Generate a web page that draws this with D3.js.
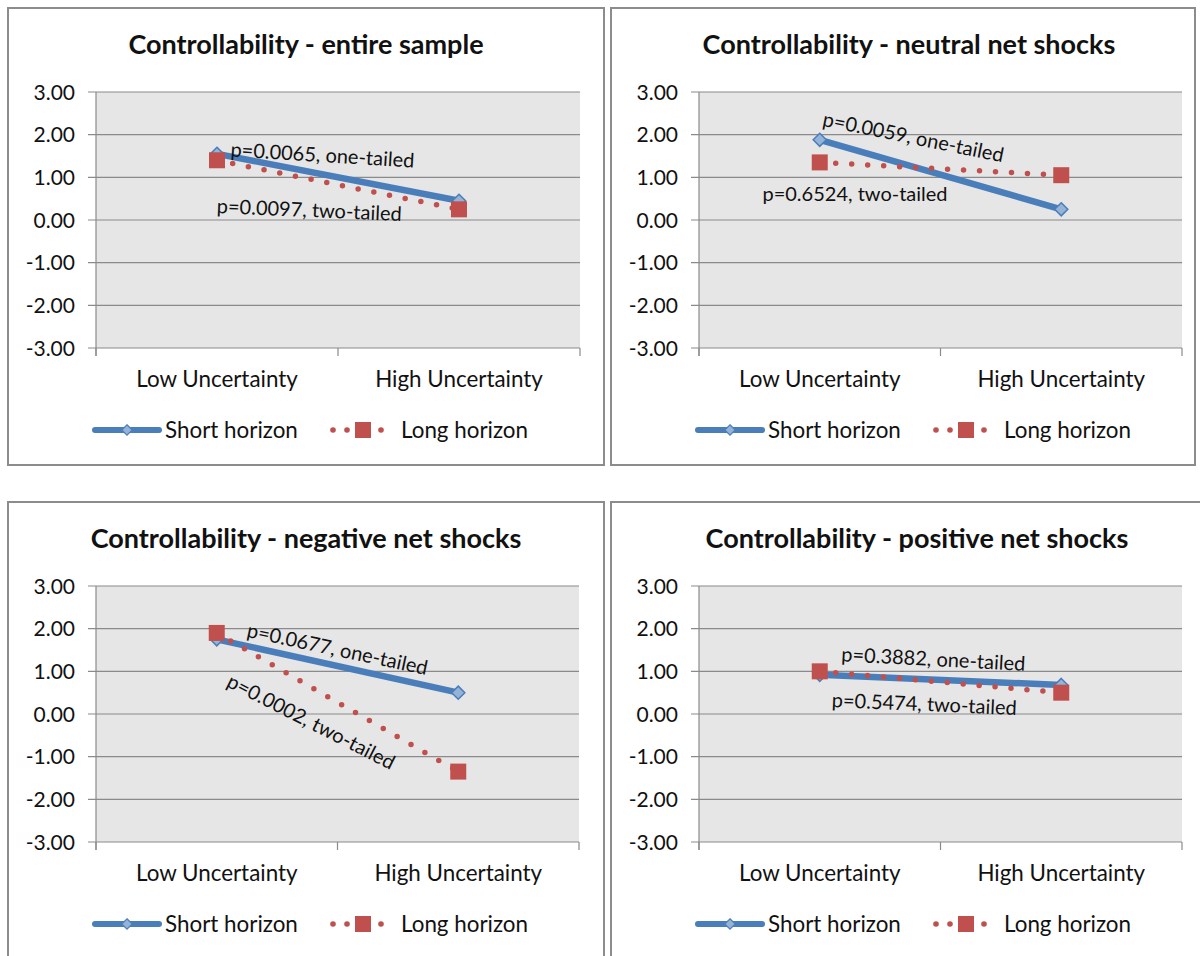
<!DOCTYPE html>
<html>
<head>
<meta charset="utf-8">
<script src="https://cdn.jsdelivr.net/npm/d3@7/dist/d3.min.js"></script>
<style>
  html, body { margin: 0; padding: 0; background: #ffffff; }
  svg { display: block; }
  text { font-family: Lato, "Open Sans", sans-serif; fill: #111; }
</style>
</head>
<body>
<svg id="chart" width="1200" height="956"></svg>
<script>
// ---- data ----
const categories = ["Low Uncertainty", "High Uncertainty"];
const seriesNames = ["Short horizon", "Long horizon"];
const panelTitles = [
  "Controllability - entire sample",
  "Controllability - neutral net shocks",
  "Controllability - negative net shocks",
  "Controllability - positive net shocks"
];
const shortHorizon = [
  [1.55, 0.45],
  [1.88, 0.25],
  [1.75, 0.50],
  [0.92, 0.68]
];
const longHorizon = [
  [1.40, 0.25],
  [1.35, 1.05],
  [1.90, -1.35],
  [1.00, 0.50]
];
const yTicks = [3, 2, 1, 0, -1, -2, -3];
const oneTailedLabels = [
  "p=0.0065, one-tailed",
  "p=0.0059, one-tailed",
  "p=0.0677, one-tailed",
  "p=0.3882, one-tailed"
];
const twoTailedLabels = [
  "p=0.0097, two-tailed",
  "p=0.6524, two-tailed",
  "p=0.0002, two-tailed",
  "p=0.5474, two-tailed"
];

// ---- layout ----
const frames = [
  { x: 8,   y: 8,   w: 596, h: 457, plotW: 484 },
  { x: 611, y: 8,   w: 584, h: 457, plotW: 483 },
  { x: 8,   y: 502, w: 596, h: 470, plotW: 483 },
  { x: 611, y: 502, w: 600, h: 470, plotW: 483 }
];
// annotation placement, relative to the plot's top-left corner: [dx, dy, angle]
const oneTailedPos = [[226, 70, 3.5], [213, 52, 11.5], [240, 70, 12], [234, 80, 3]];
const twoTailedPos = [[213, 125, 2.5], [156, 109, 0], [212, 142, 27], [225, 125, 2.5]];

const plotOffsetX = 88, plotOffsetY = 84, plotH = 256;
const blue = "#4a7ebb", blueLight = "#95b3d7", red = "#c0504d";
const gridColor = "#8a8a8a";
const fmt = d => d3.format(".2f")(d).replace("\u2212", "-");

const svg = d3.select("#chart");

frames.forEach((f, i) => {
  const g = svg.append("g").attr("transform", `translate(${f.x},${f.y})`);

  // panel frame
  g.append("rect")
    .attr("x", 0).attr("y", 0).attr("width", f.w).attr("height", f.h)
    .attr("fill", "#fff").attr("stroke", "#8c8c8c").attr("stroke-width", 2);

  // title
  g.append("text")
    .attr("x", f.w / 2 + (i % 2 ? 6 : 0)).attr("y", 46)
    .attr("text-anchor", "middle")
    .attr("font-size", 27).attr("font-weight", "bold")
    .text(panelTitles[i]);

  const plot = g.append("g").attr("transform", `translate(${plotOffsetX},${plotOffsetY})`);

  const x = d3.scaleBand().domain(categories).range([0, f.plotW]);
  const y = d3.scaleLinear().domain([-3, 3]).range([plotH, 0]);

  plot.append("rect").attr("width", f.plotW).attr("height", plotH).attr("fill", "#e6e6e6");

  // horizontal gridlines
  plot.append("g").selectAll("line").data(yTicks).join("line")
    .attr("x1", -8).attr("x2", f.plotW)
    .attr("y1", d => y(d)).attr("y2", d => y(d))
    .attr("stroke", gridColor).attr("stroke-width", 1.2);

  // y axis
  const yAxis = d3.axisLeft(y).tickValues(yTicks).tickFormat(fmt).tickSize(0).tickPadding(21);
  const ya = plot.append("g").call(yAxis);
  ya.select(".domain").remove();
  ya.selectAll("text").attr("font-size", 21).attr("font-family", "Lato, sans-serif").attr("fill", "#111")
    .attr("dy", "0.34em");
  plot.append("line").attr("x1", 0).attr("x2", 0).attr("y1", 0).attr("y2", plotH + 8)
    .attr("stroke", gridColor).attr("stroke-width", 1.2);

  // x axis
  const xa = plot.append("g").attr("transform", `translate(0,${plotH})`)
    .call(d3.axisBottom(x).tickSize(0).tickPadding(23));
  xa.select(".domain").remove();
  xa.selectAll("text").attr("font-size", 22.4).attr("font-family", "Lato, sans-serif").attr("fill", "#111");
  const boundaries = [0, f.plotW / 2, f.plotW];
  plot.append("g").selectAll("line").data(boundaries).join("line")
    .attr("x1", d => d).attr("x2", d => d).attr("y1", plotH).attr("y2", plotH + 8)
    .attr("stroke", gridColor).attr("stroke-width", 1.2);

  const cx = c => x(c) + x.bandwidth() / 2;
  const line = d3.line().x(d => cx(d.c)).y(d => y(d.v));

  const sData = categories.map((c, k) => ({ c, v: shortHorizon[i][k] }));
  const lData = categories.map((c, k) => ({ c, v: longHorizon[i][k] }));

  // short horizon: solid line + diamonds
  plot.append("path").datum(sData).attr("d", line)
    .attr("fill", "none").attr("stroke", blue).attr("stroke-width", 6.5);
  plot.append("g").selectAll("path").data(sData).join("path")
    .attr("transform", d => `translate(${cx(d.c)},${y(d.v)})`)
    .attr("d", d3.symbol(d3.symbolDiamond2, 110)())
    .attr("fill", blueLight).attr("stroke", blue).attr("stroke-width", 1.5);

  // long horizon: round-dot line + squares
  plot.append("path").datum(lData).attr("d", line)
    .attr("fill", "none").attr("stroke", red).attr("stroke-width", 5.5)
    .attr("stroke-linecap", "round").attr("stroke-dasharray", "0 16");
  plot.append("g").selectAll("rect").data(lData).join("rect")
    .attr("x", d => cx(d.c) - 8).attr("y", d => y(d.v) - 8)
    .attr("width", 16).attr("height", 16).attr("fill", red);

  // p-value annotations
  [[oneTailedLabels[i], oneTailedPos[i]], [twoTailedLabels[i], twoTailedPos[i]]].forEach(([t, p]) => {
    plot.append("text")
      .attr("transform", `translate(${p[0]},${p[1]}) rotate(${p[2]})`)
      .attr("text-anchor", "middle")
      .attr("font-size", 20)
      .text(t);
  });

  // legend
  const lg = g.append("g").attr("transform", "translate(87,422)");
  lg.append("line").attr("x1", 0).attr("x2", 64).attr("y1", 0).attr("y2", 0)
    .attr("stroke", blue).attr("stroke-width", 6).attr("stroke-linecap", "round");
  lg.append("path").attr("transform", "translate(32,0)")
    .attr("d", d3.symbol(d3.symbolDiamond2, 70)())
    .attr("fill", blueLight).attr("stroke", blue).attr("stroke-width", 1.2);
  lg.append("text").attr("x", 70).attr("y", 0).attr("dy", "0.35em")
    .attr("font-size", 22.4).text(seriesNames[0]);

  const lx = 238;
  lg.append("g").selectAll("circle").data([0, 14, 48]).join("circle")
    .attr("cx", d => lx + d).attr("cy", 0).attr("r", 2.8).attr("fill", red);
  lg.append("rect").attr("x", lx + 22).attr("y", -8).attr("width", 16).attr("height", 16).attr("fill", red);
  lg.append("text").attr("x", lx + 68).attr("y", 0).attr("dy", "0.35em")
    .attr("font-size", 22.4).text(seriesNames[1]);
});
</script>
</body>
</html>
